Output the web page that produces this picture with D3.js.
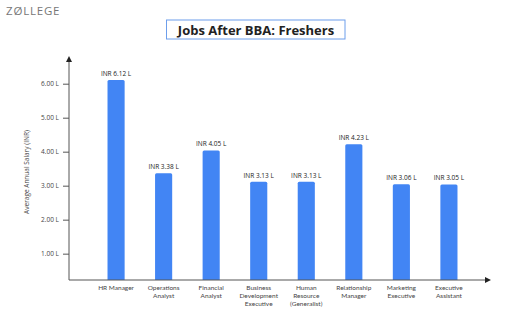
<!DOCTYPE html>
<html><head><meta charset="utf-8">
<script src="https://cdn.jsdelivr.net/npm/d3@7"></script>
<style>body{margin:0;background:#fff;} svg{display:block;font-family:"Open Sans",Lato,sans-serif;}</style>
</head><body>
<svg id="c" width="512" height="326"></svg>
<script>
const categories = [["HR Manager"],["Operations","Analyst"],["Financial","Analyst"],["Business","Development","Executive"],["Human","Resource","(Generalist)"],["Relationship","Manager"],["Marketing","Executive"],["Executive","Assistant"]];
const values = [6.12, 3.38, 4.05, 3.13, 3.13, 4.23, 3.06, 3.05];
const valueLabels = ["INR 6.12 L","INR 3.38 L","INR 4.05 L","INR 3.13 L","INR 3.13 L","INR 4.23 L","INR 3.06 L","INR 3.05 L"];
const yTicks = [1,2,3,4,5,6];
const yTickLabels = ["1.00 L","2.00 L","3.00 L","4.00 L","5.00 L","6.00 L"];

const svg = d3.select("#c");
const x = d3.scaleBand().domain(d3.range(categories.length)).range([69,496]).paddingInner(0.64).paddingOuter(0.81);
const y = d3.scaleLinear().domain([0.24,6.6]).range([280,63.8]);
const base = 280;

// logo
svg.append("text").attr("x",6).attr("y",15).attr("font-size",11.5).attr("fill","#777").attr("letter-spacing",0.8).text("ZØLLEGE");

// title
svg.append("rect").attr("x",166.5).attr("y",20).attr("width",178.5).attr("height",19).attr("fill","#fff").attr("stroke","#6d9eeb").attr("stroke-width",1);
svg.append("text").attr("x",256).attr("y",34.5).attr("text-anchor","middle").attr("font-size",13).attr("font-weight","bold").attr("fill","#222").text("Jobs After BBA: Freshers");

// bars
svg.selectAll("path.bar").data(values).join("path").attr("class","bar").attr("fill","#4285f4")
 .attr("d",(d,i)=>{const x0=x(i),w=x.bandwidth(),t=y(d),r=1.5;return `M${x0},${base}V${t+r}Q${x0},${t} ${x0+r},${t}H${x0+w-r}Q${x0+w},${t} ${x0+w},${t+r}V${base}Z`;});

svg.selectAll("text.vl").data(values).join("text").attr("class","vl")
 .attr("x",(d,i)=>x(i)+x.bandwidth()/2).attr("y",d=>y(d)-4).attr("text-anchor","middle").attr("font-size",6.5).attr("fill","#222")
 .text((d,i)=>valueLabels[i]);

// axes
const axisColor="#555";
svg.append("line").attr("x1",69).attr("x2",69).attr("y1",base).attr("y2",60).attr("stroke",axisColor).attr("stroke-width",1);
svg.append("path").attr("d","M69,56 L66,62 L72,62 Z").attr("fill","#222");
svg.append("line").attr("x1",69).attr("x2",486).attr("y1",base).attr("y2",base).attr("stroke",axisColor).attr("stroke-width",1);
svg.append("path").attr("d","M491,280 L485,277 L485,283 Z").attr("fill","#222");

svg.selectAll("line.tk").data(yTicks).join("line").attr("class","tk").attr("x1",63).attr("x2",69).attr("y1",d=>y(d)).attr("y2",d=>y(d)).attr("stroke",axisColor);
svg.selectAll("text.tl").data(yTicks).join("text").attr("class","tl").attr("x",59).attr("y",d=>y(d)+2.3).attr("text-anchor","end").attr("font-size",6.5).attr("fill","#444").text((d,i)=>yTickLabels[i]);

svg.append("text").attr("transform","translate(29,172) rotate(-90)").attr("text-anchor","middle").attr("font-size",6.5).attr("fill","#444").text("Average Annual Salary (INR)");

// category labels
categories.forEach((lines,i)=>{
  lines.forEach((l,j)=>svg.append("text").attr("text-anchor","middle").attr("font-size",6.5).attr("font-family","Lato, sans-serif").attr("fill","#444")
    .attr("x",x(i)+x.bandwidth()/2).attr("y",290+j*7.9).text(l));
});
</script>
</body></html>
